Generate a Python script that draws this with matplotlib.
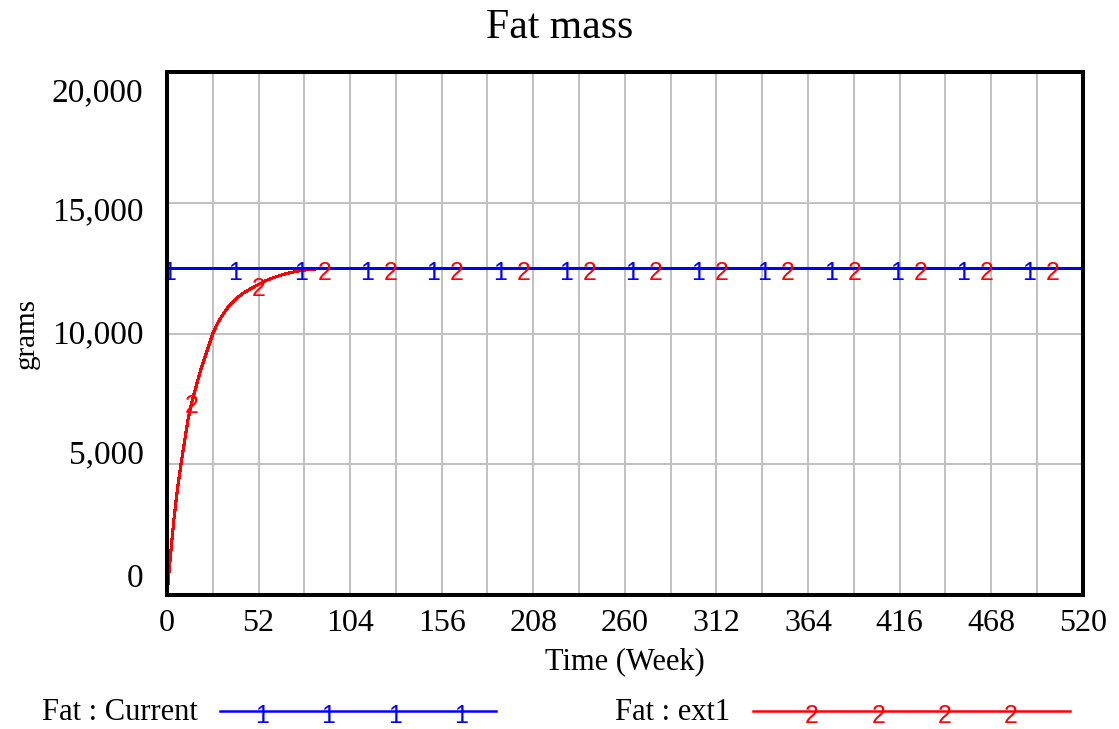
import numpy as np
import matplotlib
matplotlib.use("Agg")
import matplotlib.pyplot as plt
from matplotlib.lines import Line2D
from matplotlib.transforms import ScaledTranslation

# ---- chart text ----
title = "Fat mass"
x_label = "Time (Week)"
y_label = "grams"
series_names = ["Fat : Current", "Fat : ext1"]

# ---- axes ticks ----
x_ticks = [0, 52, 104, 156, 208, 260, 312, 364, 416, 468, 520]
y_ticks = [0, 5000, 10000, 15000, 20000]
y_tick_labels = ["0", "5,000", "10,000", "15,000", "20,000"]

# ---- series: Fat : Current (flat run) ----
current_weeks = [0, 520]
current_fat = [12500, 12500]

# ---- series: Fat : ext1 (rises toward the current level) ----
ext1_weeks = [0, 2, 4, 6, 8, 10, 12, 14, 16, 18, 20, 22, 24, 26, 28, 30, 32,
              34, 36, 38, 40, 44, 48, 52, 56, 60, 64, 68, 72, 76, 80, 84, 88,
              92, 520]
ext1_fat = [0, 1550, 2950, 4100, 5050, 5900, 6750, 7350, 7850, 8350, 8800,
            9200, 9600, 10000, 10300, 10550, 10750, 10950, 11120, 11260,
            11380, 11580, 11740, 11880, 12020, 12130, 12220, 12300, 12360,
            12410, 12450, 12470, 12490, 12500, 12500]

SERIF = "Liberation Serif"
SANS = "Liberation Sans"
BLUE = "#0000ff"
RED = "#ff0000"

W, H = 1119, 729
fig = plt.figure(figsize=(W / 100, H / 100), dpi=100)
fig.patch.set_facecolor("white")

left, right, top, bottom = 167, 1082.7, 72, 595.3
ax = fig.add_axes([left / W, 1 - bottom / H, (right - left) / W, (bottom - top) / H])

ax.set_xlim(0, 520)
ax.set_ylim(0, 20000)

# grid: vertical every 26 weeks, horizontal every 5,000 g
ax.set_xticks(x_ticks)
ax.set_xticks(np.arange(0, 521, 26), minor=True)
ax.set_yticks(y_ticks)
ax.grid(which="both", axis="x", color="#c0c0c0", lw=1.4)
ax.grid(which="major", axis="y", color="#c0c0c0", lw=1.4)
ax.set_axisbelow(True)
ax.tick_params(which="both", length=0)
ax.tick_params(axis="x", pad=10)
ax.set_xticklabels([str(v) for v in x_ticks], fontsize=23, family=SERIF)
ax.set_yticklabels([])

for s in ax.spines.values():
    s.set_linewidth(2.9)
    s.set_color("black")
    s.set_capstyle("projecting")
    s.set_zorder(6)

# y labels spread across the frame height
label_shift_px = [-17, -9, 1, 9, 21]
for val, lab, dpx in zip(y_ticks, y_tick_labels, label_shift_px):
    tr = ax.get_yaxis_transform() + ScaledTranslation(-23.5 / 100, -dpx / 100, fig.dpi_scale_trans)
    ax.text(0, val, lab, transform=tr, ha="right", va="center",
            fontsize=24, family=SERIF, color="black")

# series lines
ax.plot(ext1_weeks, ext1_fat, color=RED, lw=1.5, antialiased=False, zorder=3)
ax.plot(current_weeks, current_fat, color=BLUE, lw=1.8, antialiased=False, zorder=4)

# numbered series markers along the lines
marker_step = 37.6
down = ScaledTranslation(0, -8.3 / 72, fig.dpi_scale_trans)
for t in np.arange(0.9, 520, marker_step):
    v = np.interp(t, current_weeks, current_fat)
    ax.text(t, v, "1", color=BLUE, fontsize=18, family=SANS, ha="center",
            va="baseline", transform=ax.transData + down, zorder=5, clip_on=False)
for t in np.arange(14.3, 520, marker_step):
    v = np.interp(t, ext1_weeks, ext1_fat)
    ax.text(t, v, "2", color=RED, fontsize=18, family=SANS, ha="center",
            va="baseline", transform=ax.transData + down, zorder=5, clip_on=False)

# titles
fig.text(0.5, 1 - 28 / H, title, ha="center", va="center", fontsize=30, family=SERIF)
fig.text((left + right) / 2 / W, 1 - 662 / H, x_label, ha="center", va="center",
         fontsize=22, family=SERIF)
fig.text(27 / W, 1 - (top + bottom) / 2 / H, y_label, ha="center", va="center",
         rotation=90, fontsize=21, family=SERIF)

# legend row along the bottom
leg_y = 1 - 711 / H
legend_rows = [
    (series_names[0], 42, 220, 496, 262, "1", BLUE),
    (series_names[1], 615, 753, 1070, 812, "2", RED),
]
for name, tx, x0, x1, m0, digit, col in legend_rows:
    fig.text(tx / W, 1 - 712 / H, name, ha="left", va="center", fontsize=22, family=SERIF)
    fig.add_artist(Line2D([x0 / W, x1 / W], [leg_y, leg_y], color=col, lw=1.8,
                          transform=fig.transFigure))
    for k in range(4):
        fig.text((m0 + k * 66.3) / W, leg_y, digit, color=col, fontsize=18,
                 family=SANS, ha="center", va="baseline",
                 transform=fig.transFigure + down)

fig.savefig("out.png", dpi=100, facecolor="white")
